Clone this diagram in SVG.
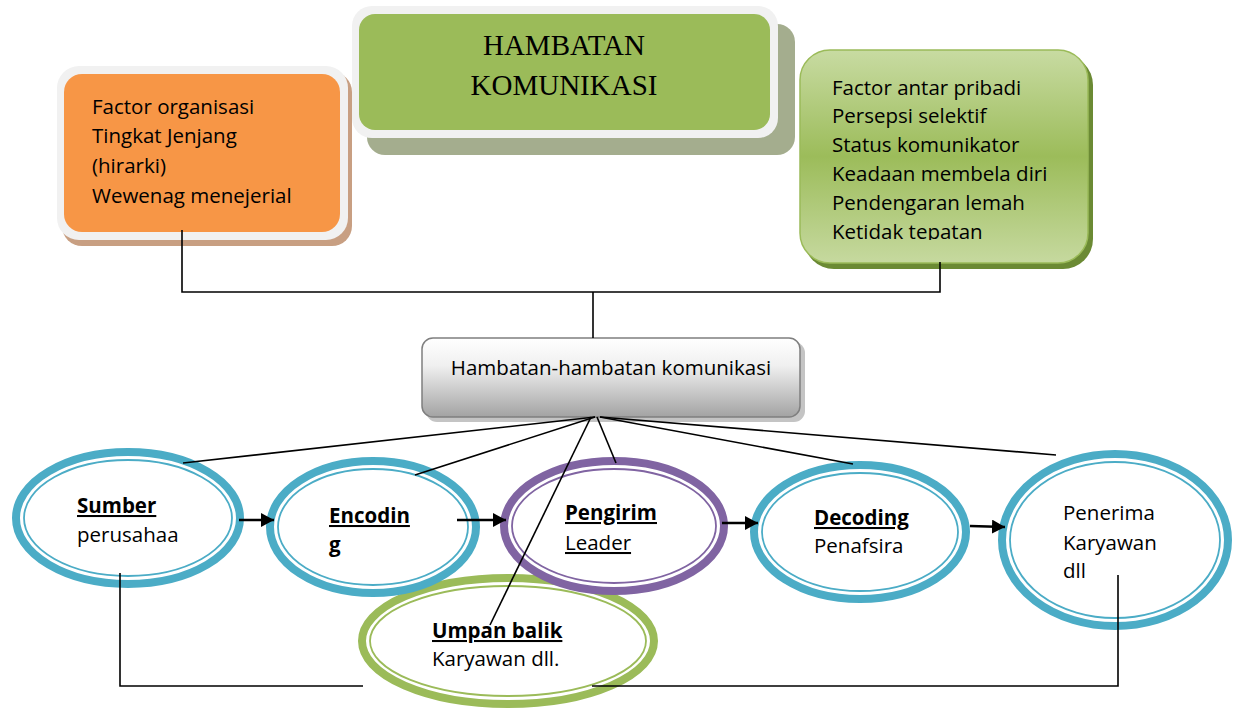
<svg xmlns="http://www.w3.org/2000/svg" width="1233" height="712" viewBox="0 0 1233 712">
<defs>
<linearGradient id="gGreen" x1="0" y1="0" x2="0" y2="1">
<stop offset="0" stop-color="#c8dba2"/><stop offset="0.5" stop-color="#9cbc5a"/><stop offset="1" stop-color="#c6d99f"/>
</linearGradient>
<linearGradient id="gGray" x1="0" y1="0" x2="0" y2="1">
<stop offset="0" stop-color="#ffffff"/><stop offset="0.35" stop-color="#f0f0f0"/><stop offset="1" stop-color="#a3a3a3"/>
</linearGradient>
<clipPath id="clipR"><rect x="800" y="60" width="280" height="180"/></clipPath>
<marker id="arr" viewBox="0 0 13 14" refX="13" refY="7" markerWidth="13" markerHeight="14" markerUnits="userSpaceOnUse" orient="auto">
<path d="M0,0 L13,7 L0,14 z" fill="#000"/>
</marker>
<style>
.t{font-family:"Open Sans","Noto Sans","DejaVu Sans",sans-serif;font-size:20.5px;fill:#000}
.b{font-weight:bold;text-decoration:underline}
.u{text-decoration:underline}
.s{font-family:"Liberation Serif","Times New Roman",serif;font-size:29px;fill:#000}
.ln{stroke:#000;stroke-width:1.6;fill:none}
.ar{stroke-width:2.4}
</style>
</defs>

<g id="orangeBox">
<rect x="62" y="72" width="290" height="174" rx="20" fill="#c89f82"/>
<rect x="57" y="66" width="291" height="174" rx="22" fill="#f1f1f1"/>
<rect x="64" y="74" width="276" height="158" rx="18" fill="#f79646"/>
<text class="t" x="92" y="114">Factor organisasi</text>
<text class="t" x="92" y="143">Tingkat Jenjang</text>
<text class="t" x="92" y="173">(hirarki)</text>
<text class="t" x="92" y="203">Wewenag menejerial</text>
</g>

<g id="titleBox">
<rect x="367" y="24" width="428" height="131" rx="18" fill="#a4ad8e"/>
<rect x="352" y="6" width="426" height="132" rx="20" fill="#f1f1f1"/>
<rect x="359" y="14" width="411" height="116" rx="16" fill="#9bbb59"/>
<text class="s" x="564" y="55" text-anchor="middle">HAMBATAN</text>
<text class="s" x="564" y="95" text-anchor="middle">KOMUNIKASI</text>
</g>

<g id="rightBox">
<rect x="804" y="55" width="289" height="214" rx="30" fill="#6b8a34"/>
<rect x="800" y="50" width="288" height="213" rx="30" fill="url(#gGreen)" stroke="#9bbb59" stroke-width="1.5"/>
<g clip-path="url(#clipR)">
<text class="t" x="832" y="95">Factor antar pribadi</text>
<text class="t" x="832" y="123">Persepsi selektif</text>
<text class="t" x="832" y="152">Status komunikator</text>
<text class="t" x="832" y="181">Keadaan membela diri</text>
<text class="t" x="832" y="210">Pendengaran lemah</text>
<text class="t" x="832" y="239">Ketidak tepatan</text>
</g>
</g>

<g id="hambatanBox">
<rect x="426" y="342" width="379" height="80" rx="11" fill="#c4c4c4"/>
<rect x="422" y="338" width="378" height="79" rx="11" fill="url(#gGray)" stroke="#7f7f7f" stroke-width="1.5"/>
<text class="t" x="611" y="375" text-anchor="middle">Hambatan-hambatan komunikasi</text>
</g>

<g id="umpan">
<ellipse cx="508" cy="641" rx="146" ry="63" fill="#fff" stroke="#9bbb59" stroke-width="8"/>
<ellipse cx="508" cy="641" rx="138" ry="55" fill="none" stroke="#9bbb59" stroke-width="1.8"/>
<text class="t b" x="432" y="638">Umpan balik</text>
<text class="t" x="432" y="666">Karyawan dll.</text>
</g>

<g id="sumber">
<ellipse cx="128" cy="518" rx="112" ry="66" fill="#fff" stroke="#4bacc6" stroke-width="8"/>
<ellipse cx="128" cy="518" rx="104" ry="58" fill="none" stroke="#4bacc6" stroke-width="1.8"/>
<text class="t b" x="77" y="513">Sumber</text>
<text class="t" x="77" y="542">perusahaa</text>
</g>

<g id="encoding">
<ellipse cx="373" cy="527" rx="103" ry="66" fill="#fff" stroke="#4bacc6" stroke-width="8"/>
<ellipse cx="373" cy="527" rx="95" ry="58" fill="none" stroke="#4bacc6" stroke-width="1.8"/>
<text class="t b" x="329" y="523">Encodin</text>
<text class="t b" x="329" y="552">g</text>
</g>

<g id="pengirim">
<ellipse cx="614" cy="526" rx="110" ry="65" fill="#fff" stroke="#8064a2" stroke-width="8"/>
<ellipse cx="614" cy="526" rx="102" ry="57" fill="none" stroke="#8064a2" stroke-width="1.8"/>
<text class="t b" x="565" y="520">Pengirim</text>
<text class="t u" x="565" y="550">Leader</text>
</g>

<g id="decoding">
<ellipse cx="860" cy="532" rx="106" ry="67" fill="#fff" stroke="#4bacc6" stroke-width="8"/>
<ellipse cx="860" cy="532" rx="98" ry="59" fill="none" stroke="#4bacc6" stroke-width="1.8"/>
<text class="t b" x="814" y="525">Decoding</text>
<text class="t" x="814" y="553">Penafsira</text>
</g>

<g id="penerima">
<ellipse cx="1115" cy="540" rx="113" ry="86" fill="#fff" stroke="#4bacc6" stroke-width="8"/>
<ellipse cx="1115" cy="540" rx="105" ry="78" fill="none" stroke="#4bacc6" stroke-width="1.8"/>
<text class="t" x="1063" y="520">Penerima</text>
<text class="t" x="1063" y="550">Karyawan</text>
<text class="t" x="1063" y="578">dll</text>
</g>

<g id="connectors" class="ln">
<polyline points="182,230 182,292 940,292 940,262"/>
<line x1="593" y1="292" x2="593" y2="338"/>
<line x1="595" y1="417" x2="183" y2="463"/>
<line x1="595" y1="417" x2="415" y2="475"/>
<line x1="597" y1="417" x2="616" y2="463"/>
<line x1="600" y1="417" x2="853" y2="464"/>
<line x1="600" y1="417" x2="1056" y2="455"/>
<line x1="591" y1="417" x2="490" y2="625"/>
<line class="ar" x1="239" y1="520" x2="274" y2="520" marker-end="url(#arr)"/>
<line class="ar" x1="457" y1="520" x2="506" y2="520" marker-end="url(#arr)"/>
<line class="ar" x1="722" y1="523" x2="758" y2="523" marker-end="url(#arr)"/>
<line class="ar" x1="970" y1="526" x2="1005" y2="527" marker-end="url(#arr)"/>
<polyline points="120,573 120,686 363,686"/>
<polyline points="592,686 1118,686 1118,575"/>
</g>
</svg>
